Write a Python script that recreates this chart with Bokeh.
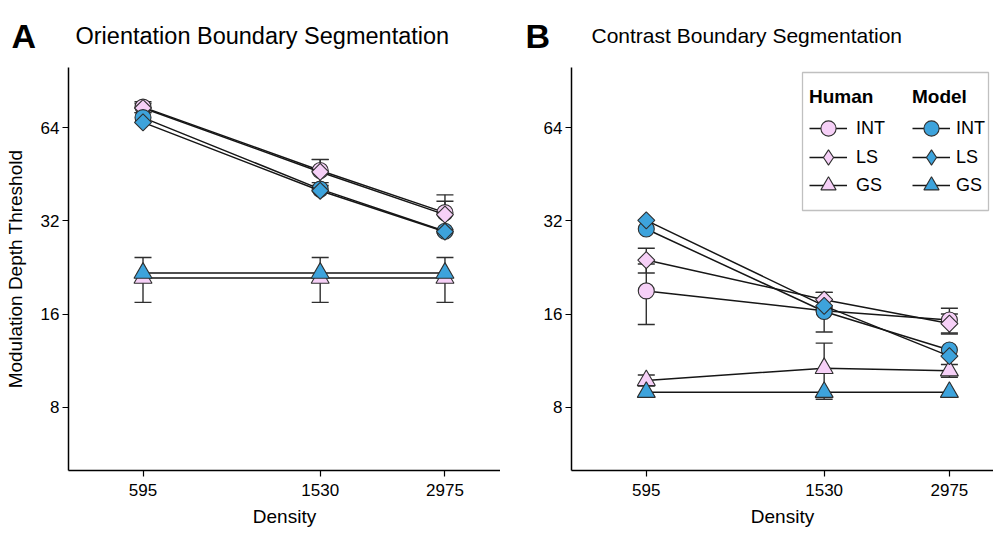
from bokeh.plotting import figure
from bokeh.layouts import row, column
from bokeh.models import (Range1d, FixedTicker, Whisker, TeeHead, ColumnDataSource,
                          Legend, LegendItem, BoxAnnotation, BasicTickFormatter)
from bokeh.core.properties import value
from bokeh.embed import file_html
from bokeh.resources import INLINE
import numpy as np

# ---------------- data ----------------
density = [595, 1530, 2975]
x_ticks = [595, 1530, 2975]
y_ticks = [8, 16, 32, 64]
series_labels = ["INT", "LS", "GS"]
group_labels = ["Human", "Model"]
panel_letters = ["A", "B"]
panel_titles = ["Orientation Boundary Segmentation", "Contrast Boundary Segmentation"]

# Panel A: Orientation Boundary Segmentation
a_human_int = [74.5, 46.5, 34.0]
a_human_int_err = [3.0, 4.0, 4.8]
a_human_ls = [74.0, 46.0, 33.5]
a_human_ls_err = [2.5, 4.4, 3.5]
a_human_gs = [20.9, 20.9, 20.9]
a_human_gs_err = [3.45, 3.45, 3.45]
a_model_int = [68.9, 40.5, 29.6]
a_model_ls = [66.5, 40.0, 29.5]
a_model_gs = [21.7, 21.7, 21.7]

# Panel B: Contrast Boundary Segmentation
b_human_int = [19.0, 16.4, 15.3]
b_human_int_err = [4.2, 2.4, 1.4]
b_human_ls = [23.9, 17.8, 14.9]
b_human_ls_err = [2.2, 1.0, 1.1]
b_human_gs = [9.77, 10.69, 10.5]
b_human_gs_err = [0.4, 2.2, 0.5]
b_model_int = [30.1, 16.3, 12.25]
b_model_ls = [32.1, 17.0, 11.7]
b_model_gs = [8.95, 8.95, 8.95]

PINK = "#F6D0F7"
BLUE = "#3DA3DC"
LINE = "#161616"
EDGE = "#2f2f2f"
FONT = "Liberation Sans"

# marker used in the plot (type, size, angle) and in the legend
MARKERS = {"INT": ("circle", 16, 0.0), "LS": ("square", 12, np.pi / 4), "GS": ("triangle", 18, 0.0)}
LEGEND_MARKERS = {"INT": "circle", "LS": "diamond", "GS": "triangle"}


def make_panel(human, human_err, model, y_label, x_end, fw, left_border, legend=False):
    p = figure(x_axis_type="log", y_axis_type="log",
               x_range=Range1d(400, x_end), y_range=Range1d(5, 100),
               frame_width=fw, frame_height=403,
               min_border_left=left_border, min_border_right=0,
               min_border_top=0, min_border_bottom=63,
               toolbar_location=None, output_backend="svg",
               outline_line_color=None, background_fill_color="white",
               border_fill_color="white")
    p.grid.visible = False
    for ax in (p.xaxis[0], p.yaxis[0]):
        ax.axis_line_width = 1.5
        ax.axis_line_color = "black"
        ax.major_tick_line_color = "black"
        ax.major_tick_line_width = 1.2
        ax.major_tick_in = 0
        ax.major_tick_out = 6
        ax.minor_tick_line_color = None
        ax.major_label_text_font = FONT
        ax.major_label_text_font_size = "17px"
        ax.major_label_text_color = "black"
        ax.axis_label_text_font = FONT
        ax.axis_label_text_font_size = "19px"
        ax.axis_label_text_font_style = "normal"
        ax.axis_label_text_color = "black"
        ax.formatter = BasicTickFormatter()
    p.xaxis.ticker = FixedTicker(ticks=x_ticks)
    p.yaxis.ticker = FixedTicker(ticks=y_ticks)
    p.xaxis.axis_label = "Density"
    p.xaxis.major_label_standoff = 7
    p.xaxis.axis_label_standoff = 7
    p.yaxis.major_label_standoff = 3
    if y_label:
        p.yaxis.axis_label = y_label
        p.yaxis.axis_label_standoff = 12

    # error bars (human data)
    for vals, errs in zip(human, human_err):
        src = ColumnDataSource(dict(x=density,
                                    upper=[v + e for v, e in zip(vals, errs)],
                                    lower=[v - e for v, e in zip(vals, errs)]))
        w = Whisker(base="x", upper="upper", lower="lower", source=src, dimension="height",
                    line_color=EDGE, line_width=1.4,
                    upper_head=TeeHead(size=17, line_color=EDGE, line_width=1.4),
                    lower_head=TeeHead(size=17, line_color=EDGE, line_width=1.4),
                    level="underlay")
        p.add_layout(w)

    items = {g: [] for g in group_labels}
    for g, group, color in ((group_labels[0], human, PINK), (group_labels[1], model, BLUE)):
        for lab, vals in zip(series_labels, group):
            m, sz, ang = MARKERS[lab]
            lr = p.line(density, vals, line_color=LINE, line_width=1.5)
            p.scatter(density, vals, marker=m, size=sz, angle=ang,
                      fill_color=color, line_color=EDGE, line_width=1.1)
            # legend-only glyph (a single undrawn NaN point) with the legend marker shape
            lg_r = p.scatter(x=np.array([np.nan]), y=np.array([np.nan]),
                             marker=LEGEND_MARKERS[lab], size=sz,
                             fill_color=color, line_color=EDGE, line_width=1.1)
            items[g].append(LegendItem(label=lab, renderers=[lr, lg_r]))

    if legend:
        box = BoxAnnotation(left=231, right=417, bottom=260, top=398,
                            left_units="screen", right_units="screen",
                            bottom_units="screen", top_units="screen",
                            fill_color="white", fill_alpha=1.0,
                            line_color=EDGE, line_width=1.3)
        p.add_layout(box)
        # one small legend per entry so that rows can sit closer than the glyph box
        row_vy = [322, 293, 265]
        for g, vx, stand in ((group_labels[0], 238, 9), (group_labels[1], 341, 6)):
            for k, it in enumerate(items[g]):
                kw = {}
                if k == 0:
                    kw = dict(title=g, title_text_font=FONT, title_text_font_size="19px",
                              title_text_font_style="bold", title_text_color="black",
                              title_standoff=0)
                lg = Legend(items=[it], location=(vx, row_vy[k]),
                            label_text_font=FONT, label_text_font_size="18px",
                            label_text_color="black",
                            glyph_width=38, glyph_height=40, spacing=0,
                            padding=0, margin=0, label_standoff=stand,
                            border_line_alpha=0, background_fill_alpha=0, **kw)
                p.add_layout(lg)
    return p


pA = make_panel([a_human_int, a_human_ls, a_human_gs],
                [a_human_int_err, a_human_ls_err, a_human_gs_err],
                [a_model_int, a_model_ls, a_model_gs],
                "Modulation Depth Threshold", 4000, 432, 68)
pB = make_panel([b_human_int, b_human_ls, b_human_gs],
                [b_human_int_err, b_human_ls_err, b_human_gs_err],
                [b_model_int, b_model_ls, b_model_gs],
                None, 3760, 422, 71, legend=True)

# header strip with the panel letters and titles (pixel coordinates, y downwards)
head = figure(width=993, height=67, x_range=Range1d(0, 993), y_range=Range1d(67, 0),
              min_border=0, toolbar_location=None, output_backend="svg",
              x_axis_location=None, y_axis_location=None,
              outline_line_color=None, border_fill_color="white")
head.grid.visible = False
head.text(x=[11, 525], y=[35, 35], text=panel_letters,
          text_font=value(FONT), text_font_size="34px", text_font_style="bold",
          text_color="black", text_baseline="alphabetic", text_align="left")
head.text(x=[75], y=[35], text=panel_titles[:1],
          text_font=value(FONT), text_font_size="23.5px",
          text_color="black", text_baseline="alphabetic", text_align="left")
head.text(x=[591], y=[35], text=panel_titles[1:],
          text_font=value(FONT), text_font_size="21px",
          text_color="black", text_baseline="alphabetic", text_align="left")

layout = column(head, row(pA, pB, spacing=0), spacing=0)
open("out.html", "w").write(file_html(layout, INLINE))
